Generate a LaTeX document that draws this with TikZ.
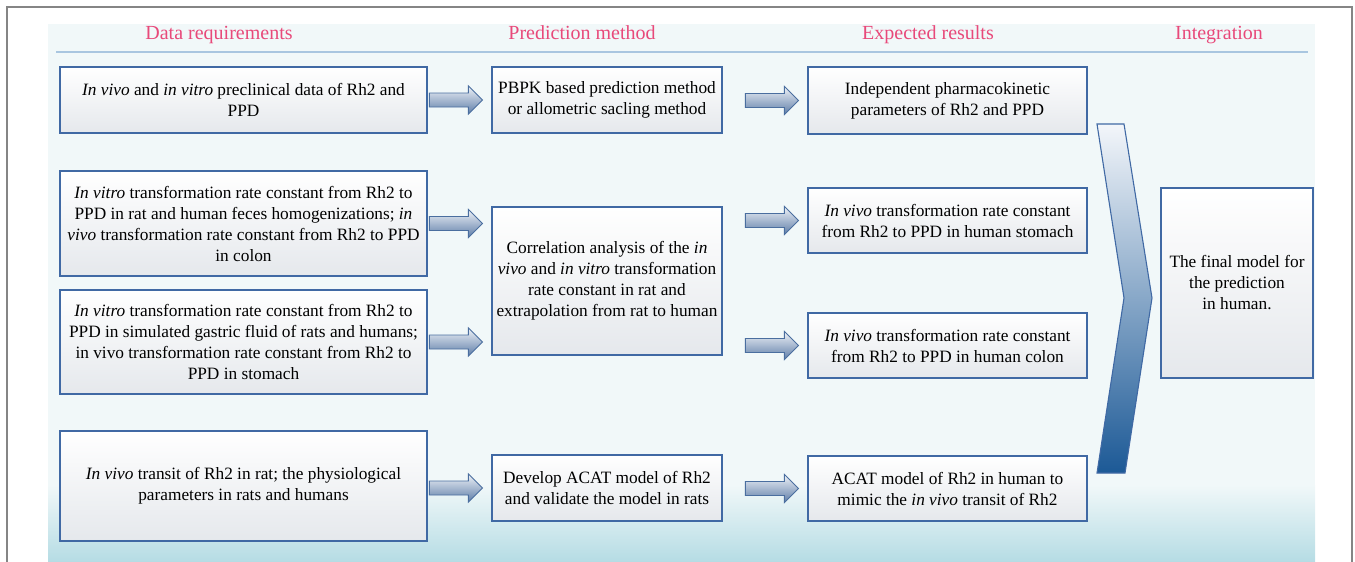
\documentclass[tikz,border=0pt]{standalone}
\usepackage{fontspec}
\setmainfont{Liberation Serif}
\usetikzlibrary{calc}
\definecolor{boxline}{HTML}{4069A4}
\definecolor{boxbot}{HTML}{E5E8EC}
\definecolor{panel}{HTML}{F1F8F9}
\definecolor{panelbot}{HTML}{B5DCE4}
\definecolor{headpink}{HTML}{E8497A}
\definecolor{headrule}{HTML}{A9C6E0}
\definecolor{arrtop}{HTML}{EEF2F7}
\definecolor{arrbot}{HTML}{5E7DA8}
\definecolor{arrline}{HTML}{4A6E9F}
\definecolor{chevtop}{HTML}{F3F6FA}
\definecolor{chevbot}{HTML}{1C5996}
\definecolor{framegray}{HTML}{858585}
\newcommand\blockarr[3]{%
  \path[barrow] let \p1=(#2.west), \p2=(#3.center) in
    (\x1-62pt,\y2+7pt) -- (\x1-23pt,\y2+7pt) -- (\x1-23pt,\y2+14pt) --
    (\x1-9pt,\y2) -- (\x1-23pt,\y2-14pt) -- (\x1-23pt,\y2-7pt) --
    (\x1-62pt,\y2-7pt) -- cycle;}
\begin{document}
\begin{tikzpicture}[x=1pt,y=-1pt,
  box/.style={draw=boxline, line width=1.2pt, top color=white, bottom color=boxbot,
    align=center, inner sep=0pt, font=\fontsize{17.3}{21}\selectfont},
  head/.style={text=headpink, font=\fontsize{20}{24}\selectfont, inner sep=0pt, anchor=base},
  barrow/.style={draw=arrline, line width=0.9pt, top color=arrtop, bottom color=arrbot, line join=miter},
]
\useasboundingbox (0,0) rectangle (1355,562);
% background panel
\fill[panel] (48,24) rectangle (1315,562);
\shade[top color=panel, bottom color=panelbot] (48,485) rectangle (1315,562);
% outer frame
\draw[framegray, line width=1.1pt] (7,562) -- (7,7) -- (1352,7) -- (1352,562);
% headers
\node[head] (h1) at (219,39) {Data requirements};
\node[head] (h2) at (582,39) {Prediction method};
\node[head] (h3) at (928,39) {Expected results};
\node[head] (h4) at (1219,39) {Integration};
\draw[headrule, line width=1.2pt] (56,52) -- (1308,52);
% column A
\node[box, minimum width=367pt, minimum height=66pt] (a1) at (243.5,100)
  {\textit{In vivo} and \textit{in vitro} preclinical data of Rh2 and\\PPD};
\node[box, minimum width=367pt, minimum height=105pt] (a2) at (243.5,223.5)
  {\textit{In vitro} transformation rate constant from Rh2 to\\PPD in rat and human feces homogenizations; \textit{in}\\\textit{vivo} transformation rate constant from Rh2 to PPD\\in colon};
\node[box, minimum width=367pt, minimum height=104pt] (a3) at (243.5,342)
  {\textit{In vitro} transformation rate constant from Rh2 to\\PPD in simulated gastric fluid of rats and humans;\\in vivo transformation rate constant from Rh2 to\\PPD in stomach};
\node[box, minimum width=367pt, minimum height=110pt] (a4) at (243.5,486)
  {\textit{In vivo} transit of Rh2 in rat; the physiological\\parameters in rats and humans};
% column B
\node[box, minimum width=230pt, minimum height=66pt] (b1) at (607,100)
  {PBPK based prediction method\\or allometric sacling method};
\node[box, minimum width=230pt, minimum height=148pt] (b2) at (607,281)
  {Correlation analysis of the \textit{in}\\\textit{vivo} and \textit{in vitro} transformation\\rate constant in rat and\\extrapolation from rat to human};
\node[box, minimum width=230pt, minimum height=66pt] (b4) at (607,488)
  {Develop ACAT model of Rh2\\and validate the model in rats};
% column C
\node[box, minimum width=279pt, minimum height=67pt] (c1) at (947.5,100.5)
  {Independent pharmacokinetic\\parameters of Rh2 and PPD};
\node[box, minimum width=279pt, minimum height=65pt] (c2) at (947.5,220.5)
  {\textit{In vivo} transformation rate constant\\from Rh2 to PPD in human stomach};
\node[box, minimum width=279pt, minimum height=65pt] (c3) at (947.5,345.5)
  {\textit{In vivo} transformation rate constant\\from Rh2 to PPD in human colon};
\node[box, minimum width=279pt, minimum height=65pt] (c4) at (947.5,488.5)
  {ACAT model of Rh2 in human to\\mimic the \textit{in vivo} transit of Rh2};
% final
\node[box, minimum width=152pt, minimum height=190pt] (f) at (1237,283)
  {The final model for\\the prediction\\in human.};
% chevron
\path[draw=boxline, line width=1.1pt, top color=chevtop, bottom color=chevbot]
  (1097,124) -- (1124,124) -- (1152,298) -- (1125,473) -- (1097,473) -- (1124,298) -- cycle;
% block arrows
\blockarr{a1}{b1}{a1}
\blockarr{b1}{c1}{c1}
\blockarr{a2}{b2}{a2}
\blockarr{a3}{b2}{a3}
\blockarr{b2}{c2}{c2}
\blockarr{b2}{c3}{c3}
\blockarr{a4}{b4}{b4}
\blockarr{b4}{c4}{c4}
\end{tikzpicture}
\end{document}
